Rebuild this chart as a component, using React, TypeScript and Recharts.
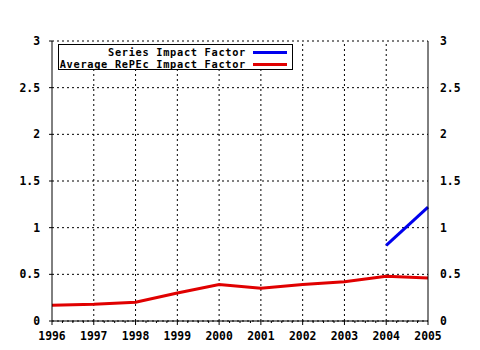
import React from 'react';
import { CartesianGrid, Line, LineChart, ReferenceLine, XAxis, YAxis } from 'recharts';

const years = [1996, 1997, 1998, 1999, 2000, 2001, 2002, 2003, 2004, 2005];
const averageRepec = [0.17, 0.18, 0.2, 0.3, 0.39, 0.35, 0.39, 0.42, 0.48, 0.46];
const seriesImpact = [null, null, null, null, null, null, null, null, 0.81, 1.22];
const yTicks = [0, 0.5, 1, 1.5, 2, 2.5, 3];
const yTickLabels = ['0', '0.5', '1', '1.5', '2', '2.5', '3'];
const legendItems = [
    { label: 'Series Impact Factor', color: '#0000ee' },
    { label: 'Average RePEc Impact Factor', color: '#e00000' },
];

const data = years.map((year, i) => ({ year, avg: averageRepec[i], series: seriesImpact[i] }));
// quarter-year ticks; labels only on whole years
const xTicks = years.flatMap((y, i) => (i < years.length - 1 ? [y, y + 0.25, y + 0.5, y + 0.75] : [y]));

const FONT = '"DejaVu Sans Mono", monospace';
const textStyle = { fontFamily: FONT, fontWeight: 'bold' as const, fontSize: 11.4, fill: '#000' };

const fmtY = (v: number) => yTickLabels[yTicks.indexOf(v)] ?? String(v);

const BottomTick = (props: any) => {
    const { x, y, payload } = props;
    const major = Number.isInteger(payload.value);
    return (
        <g>
            <line x1={x} x2={x} y1={y} y2={y + (major ? 4 : 2)} stroke="#000" />
            {major && (
                <text x={x} y={y + 19} textAnchor="middle" style={textStyle}>
                    {payload.value}
                </text>
            )}
        </g>
    );
};

const TopTick = (props: any) => {
    const { x, y, payload } = props;
    const major = Number.isInteger(payload.value);
    return <line x1={x} x2={x} y1={y} y2={y - (major ? 4 : 2)} stroke="#000" />;
};

const RightTick = (props: any) => {
    const { x, y, payload } = props;
    return (
        <text x={x} y={y} dy={4} textAnchor="start" style={textStyle}>
            {fmtY(payload.value)}
        </text>
    );
};

const LegendBox = () => (
    <div
        style={{
            position: 'absolute',
            left: 58,
            top: 44,
            width: 235,
            height: 26,
            border: '1px solid #000',
            background: '#fff',
            overflow: 'hidden',
            boxSizing: 'border-box',
            paddingTop: 1,
            fontFamily: FONT,
            fontWeight: 'bold',
            fontSize: 10.3,
            letterSpacing: 0.7,
            lineHeight: '12px',
            color: '#000',
        }}
    >
        {legendItems.map((item) => (
            <div key={item.label} style={{ display: 'flex', alignItems: 'center', justifyContent: 'flex-end', height: 12 }}>
                <span style={{ whiteSpace: 'nowrap' }}>{item.label}</span>
                <span style={{ display: 'inline-block', flex: 'none', width: 34, height: 3, background: item.color, marginLeft: 7, marginRight: 5 }} />
            </div>
        ))}
    </div>
);

export default function App() {
    return (
        <div style={{ position: 'absolute', left: 0, top: 0, width: 480, height: 350, background: '#fff' }}>
            <LineChart width={480} height={350} data={data} margin={{ top: 41, right: 0, bottom: 0, left: 0 }}>
                <CartesianGrid vertical={false} yAxisId="left" stroke="#000" strokeDasharray="2 3" />
                {years.slice(1, -1).map((y) => (
                    <ReferenceLine key={y} x={y} yAxisId="left" stroke="#000" strokeDasharray="2 3" />
                ))}
                <XAxis
                    dataKey="year"
                    type="number"
                    domain={[1996, 2005]}
                    ticks={xTicks}
                    interval={0}
                    height={29}
                    tickSize={0}
                    tickMargin={0}
                    tickLine={false}
                    axisLine={{ stroke: '#000' }}
                    tick={<BottomTick />}
                />
                <XAxis
                    xAxisId="top"
                    orientation="top"
                    dataKey="year"
                    type="number"
                    domain={[1996, 2005]}
                    ticks={xTicks}
                    interval={0}
                    height={0}
                    tickSize={0}
                    tickMargin={0}
                    tickLine={false}
                    axisLine={{ stroke: '#000' }}
                    tick={<TopTick />}
                />
                <YAxis
                    yAxisId="left"
                    domain={[0, 3]}
                    ticks={yTicks}
                    interval={0}
                    width={52}
                    tickSize={3}
                    tickMargin={9}
                    tickFormatter={fmtY}
                    axisLine={{ stroke: '#000' }}
                    tickLine={{ stroke: '#000' }}
                    tick={textStyle}
                />
                <YAxis
                    yAxisId="right"
                    orientation="right"
                    domain={[0, 3]}
                    ticks={yTicks}
                    interval={0}
                    width={52}
                    tickSize={0}
                    tickMargin={12}
                    axisLine={{ stroke: '#000' }}
                    tickLine={false}
                    tick={<RightTick />}
                />
                <Line yAxisId="right" dataKey="avg" stroke="#e00000" strokeWidth={3} dot={false} isAnimationActive={false} />
                <Line yAxisId="left" dataKey="series" stroke="#0000ee" strokeWidth={3} dot={false} isAnimationActive={false} />
            </LineChart>
            <LegendBox />
        </div>
    );
}
